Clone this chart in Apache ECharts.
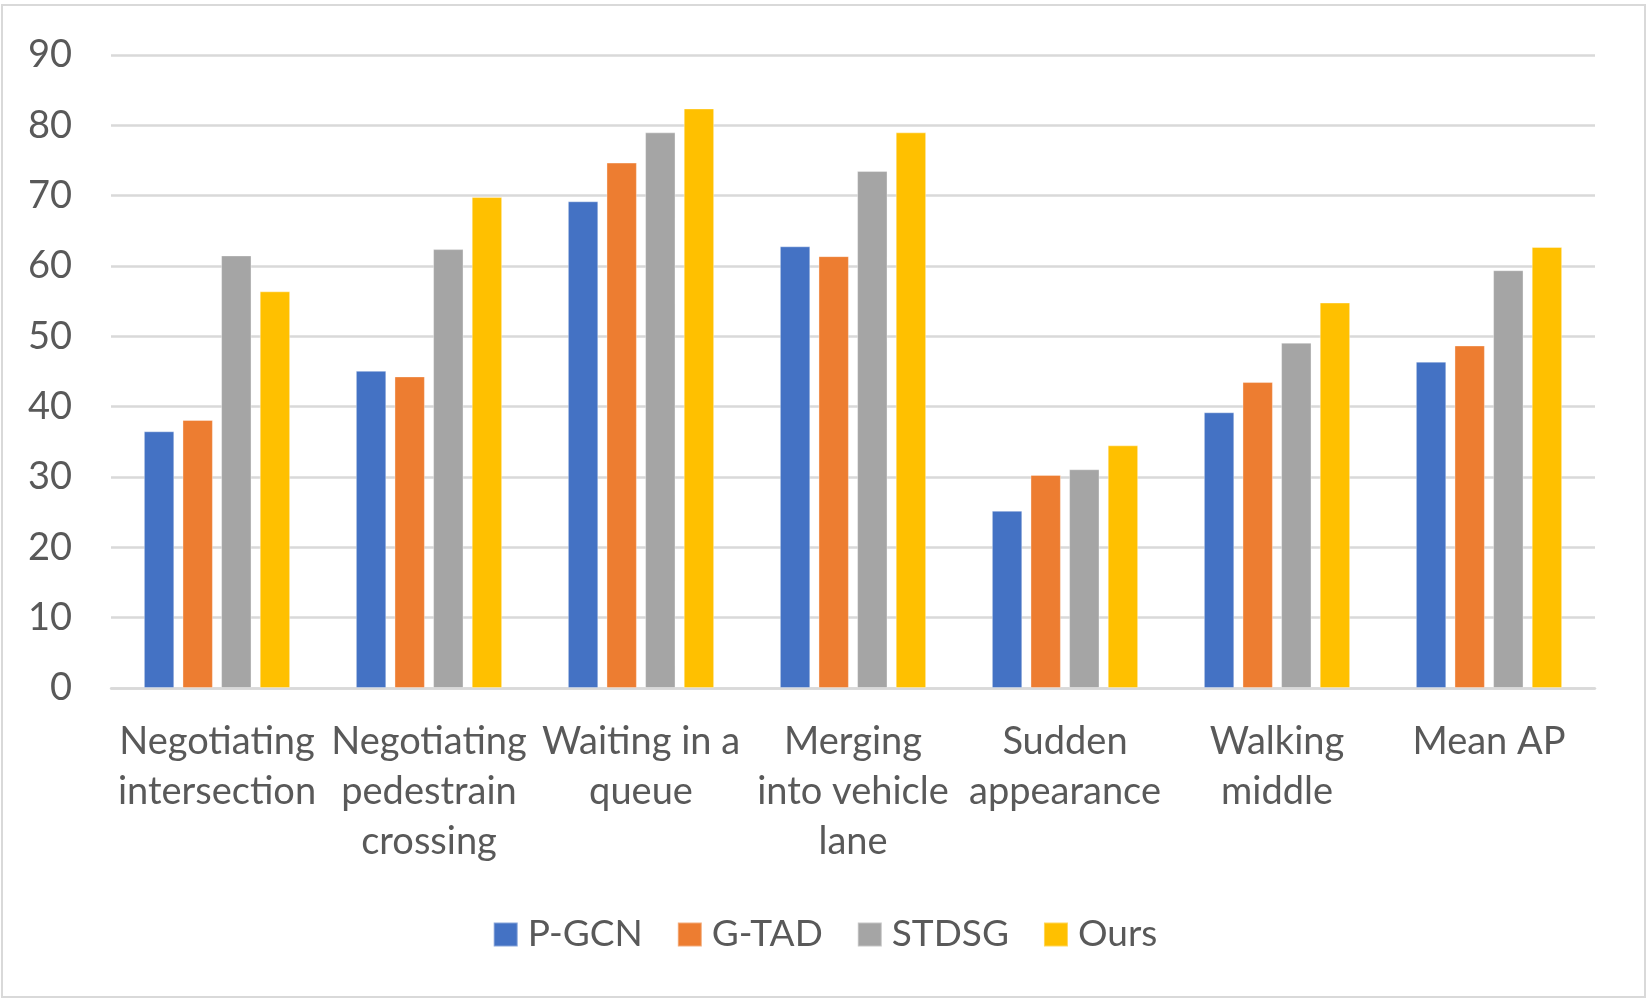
<!DOCTYPE html>
<html>
<head>
<meta charset="utf-8">
<script src="https://cdn.jsdelivr.net/npm/echarts@6/dist/echarts.min.js"></script>
<style>
  html, body { margin: 0; padding: 0; background: #fff; }
  #chart { width: 1650px; height: 1008px; }
</style>
</head>
<body>
<div id="chart"></div>
<script>
// categories (wrapped like the original)
var categories = [
    'Negotiating\nintersection',
    'Negotiating\npedestrain\ncrossing',
    'Waiting in a\nqueue',
    'Merging\ninto vehicle\nlane',
    'Sudden\nappearance',
    'Walking\nmiddle',
    'Mean AP'
];
var seriesNames = ['P-GCN', 'G-TAD', 'STDSG', 'Ours'];
var pgcn  = [36.5, 45.1, 69.2, 62.8, 25.2, 39.2, 46.4];
var gtad  = [38.1, 44.3, 74.7, 61.4, 30.3, 43.5, 48.7];
var stdsg = [61.5, 62.4, 79.0, 73.5, 31.1, 49.1, 59.4];
var ours  = [56.4, 69.8, 82.4, 79.0, 34.5, 54.8, 62.7];
var colors = ['#4472C4', '#ED7D31', '#A5A5A5', '#FFC000'];

var myChart = echarts.init(document.getElementById('chart'));
var font = 'Lato';
var textColor = '#595959';

function bar(name, data) {
    return {
        name: name,
        type: 'bar',
        data: data,
        barGap: '27%',
        barCategoryGap: '31%',
        itemStyle: { borderColor: 'rgba(255,255,255,0.35)', borderWidth: 1 }
    };
}

var option = {
    animation: false,
    color: colors,
    textStyle: { fontFamily: font },
    /*外框*/
    graphic: [{
        type: 'rect',
        shape: { x: 2, y: 5, width: 1643, height: 992 },
        style: { fill: 'none', stroke: '#d9d9d9', lineWidth: 2 },
        silent: true
    }],
    legend: {
        data: seriesNames,
        left: 'center',
        top: 911,
        itemWidth: 24,
        itemHeight: 24,
        itemGap: 34,
        icon: 'rect',
        textStyle: { color: textColor, fontSize: 37, fontFamily: font, padding: [0, 0, 0, 5] }
    },
    grid: {
        left: 111,
        right: 55,
        top: 55,
        bottom: 320,
        containLabel: false
    },
    xAxis: {
        type: 'category',
        data: categories,
        axisTick: { show: false },
        axisLine: { show: true, lineStyle: { color: '#d9d9d9', width: 2.5 } },
        axisLabel: {
            interval: 0,
            margin: 29,
            color: textColor,
            fontSize: 38,
            lineHeight: 50,
            fontFamily: font,
            align: 'center',
            verticalAlign: 'top'
        }
    },
    yAxis: {
        type: 'value',
        min: 0,
        max: 90,
        interval: 10,
        axisLine: { show: false },
        axisTick: { show: false },
        splitLine: { show: true, lineStyle: { color: '#d9d9d9', width: 2.5 } },
        axisLabel: { margin: 39, color: textColor, fontSize: 38, fontFamily: font }
    },
    series: [
        bar(seriesNames[0], pgcn),
        bar(seriesNames[1], gtad),
        bar(seriesNames[2], stdsg),
        bar(seriesNames[3], ours)
    ]
};
myChart.setOption(option);
</script>
</body>
</html>
